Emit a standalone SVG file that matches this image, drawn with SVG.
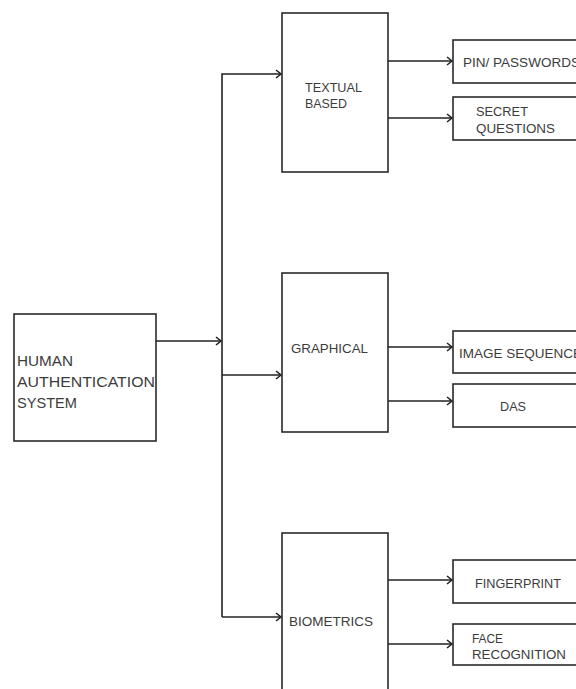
<svg xmlns="http://www.w3.org/2000/svg" width="576" height="689" viewBox="0 0 576 689">
<style>
.box{fill:#fff;stroke:#2a2a2a;stroke-width:1.6}
.t{font-family:"Liberation Sans",Arial,sans-serif;font-size:13px;fill:#3c3c3c}
.l{font-size:15px}
.c{fill:none;stroke:#222;stroke-width:1.6}
</style>
<defs>
<marker id="ah" markerUnits="userSpaceOnUse" markerWidth="10" markerHeight="12" refX="7" refY="5" orient="auto">
<path d="M2,1 L7,5 L2,9" fill="none" stroke="#222" stroke-width="1.6"/>
</marker>
</defs>
<rect width="576" height="689" fill="#fff"/>
<g id="connectors">
<path class="c" d="M156,341 H221" marker-end="url(#ah)"/>
<path class="c" d="M222,617 V74 H281" marker-end="url(#ah)"/>
<path class="c" d="M222,375 H281" marker-end="url(#ah)"/>
<path class="c" d="M222,617 H281" marker-end="url(#ah)"/>
<path class="c" d="M386,61 H452" marker-end="url(#ah)"/>
<path class="c" d="M388,118 H452" marker-end="url(#ah)"/>
<path class="c" d="M388,347 H452" marker-end="url(#ah)"/>
<path class="c" d="M388,401 H452" marker-end="url(#ah)"/>
<path class="c" d="M388,580 H452" marker-end="url(#ah)"/>
<path class="c" d="M388,644 H452" marker-end="url(#ah)"/>
</g>
<g id="human">
<rect class="box" x="14" y="314" width="142" height="127"/>
<text class="t l" x="17" y="366" textLength="56" lengthAdjust="spacingAndGlyphs">HUMAN</text>
<text class="t l" x="17" y="387" textLength="138" lengthAdjust="spacingAndGlyphs">AUTHENTICATION</text>
<text class="t l" x="17" y="408" textLength="60" lengthAdjust="spacingAndGlyphs">SYSTEM</text>
</g>
<g id="textual">
<rect class="box" x="282" y="13" width="106" height="159"/>
<text class="t" x="305" y="92" textLength="57" lengthAdjust="spacingAndGlyphs">TEXTUAL</text>
<text class="t" x="305" y="108" textLength="42" lengthAdjust="spacingAndGlyphs">BASED</text>
</g>
<g id="graphical">
<rect class="box" x="282" y="273" width="106" height="159"/>
<text class="t" x="291" y="353" textLength="77" lengthAdjust="spacingAndGlyphs">GRAPHICAL</text>
</g>
<g id="biometrics">
<rect class="box" x="282" y="533" width="106" height="160"/>
<text class="t" x="289" y="626" textLength="84" lengthAdjust="spacingAndGlyphs">BIOMETRICS</text>
</g>
<g id="pin">
<rect class="box" x="453" y="40" width="130" height="43"/>
<text class="t" x="463" y="67" textLength="117" lengthAdjust="spacingAndGlyphs">PIN/ PASSWORDS</text>
</g>
<g id="secret">
<rect class="box" x="453" y="97" width="130" height="43"/>
<text class="t" x="476" y="116" textLength="52" lengthAdjust="spacingAndGlyphs">SECRET</text>
<text class="t" x="476" y="133" textLength="79" lengthAdjust="spacingAndGlyphs">QUESTIONS</text>
</g>
<g id="imageseq">
<rect class="box" x="453" y="331" width="130" height="42"/>
<text class="t" x="459" y="358" textLength="123" lengthAdjust="spacingAndGlyphs">IMAGE SEQUENCE</text>
</g>
<g id="das">
<rect class="box" x="453" y="384" width="130" height="43"/>
<text class="t" x="500" y="411" textLength="26" lengthAdjust="spacingAndGlyphs">DAS</text>
</g>
<g id="fingerprint">
<rect class="box" x="453" y="560" width="130" height="43"/>
<text class="t" x="475" y="588" textLength="86" lengthAdjust="spacingAndGlyphs">FINGERPRINT</text>
</g>
<g id="face">
<rect class="box" x="453" y="624" width="130" height="41"/>
<text class="t" x="472" y="643" textLength="31" lengthAdjust="spacingAndGlyphs">FACE</text>
<text class="t" x="472" y="659" textLength="94" lengthAdjust="spacingAndGlyphs">RECOGNITION</text>
</g>
</svg>
